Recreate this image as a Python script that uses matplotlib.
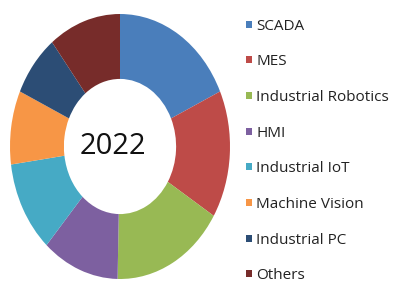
import matplotlib.pyplot as plt
from matplotlib.patches import Rectangle

# segment shares (clockwise from 12 o'clock)
labels = ['SCADA', 'MES', 'Industrial Robotics', 'HMI', 'Industrial IoT',
          'Machine Vision', 'Industrial PC', 'Others']
shares = [18.2, 15.6, 16.6, 11.3, 11.2, 9.0, 7.6, 10.6]
colors = ['#4A7EBB', '#BE4B48', '#98B954', '#7D60A0', '#46AAC5',
          '#F79646', '#2C4D75', '#772C2A']
year = '2022'

W, H = 394, 284
fig = plt.figure(figsize=(W / 100, H / 100), dpi=100)
fig.patch.set_facecolor('white')

# the ring is stretched taller than wide in the reference
ax = fig.add_axes([10 / W, (H - 279) / H, 220 / W, 265 / H])
ax.pie(shares, colors=colors, startangle=90, counterclock=False,
       wedgeprops=dict(width=0.49, linewidth=0))
ax.set_aspect('auto')
ax.set_xlim(-1, 1)
ax.set_ylim(-1, 1)
ax.text(-0.06, 0.0, year, ha='center', va='center', fontsize=21,
        family='Open Sans', color='#111111')

# legend drawn by hand to follow the loose spacing
for i, (lab, col) in enumerate(zip(labels, colors)):
    yc = 24 + i * 35.7
    fig.patches.append(Rectangle((246 / W, 1 - (yc + 3.5) / H), 6 / W, 7 / H,
                                 transform=fig.transFigure, facecolor=col,
                                 edgecolor='none'))
    fig.text(256 / W, 1 - yc / H, lab, ha='left', va='center_baseline',
             fontsize=11, family='Open Sans', color='#222222')

fig.savefig('out.png', dpi=100)
